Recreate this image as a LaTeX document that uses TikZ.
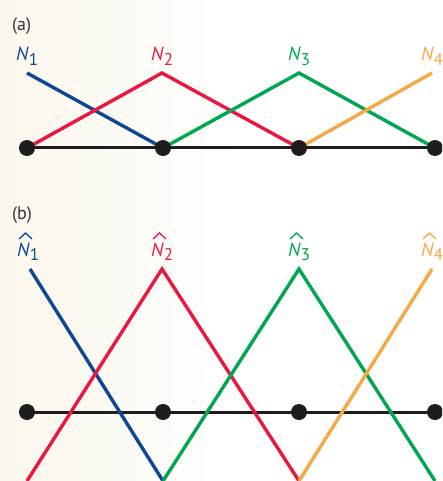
\documentclass[tikz,border=0pt]{standalone}
\usepackage{fontspec}
\setmainfont{PT Sans}
\definecolor{nblue}{RGB}{12,72,150}
\definecolor{nred}{RGB}{234,24,64}
\definecolor{ngreen}{RGB}{0,166,80}
\definecolor{norange}{RGB}{247,168,70}
\definecolor{cream}{RGB}{252,247,236}
\definecolor{dotc}{RGB}{30,28,28}
\newcommand{\mysub}[1]{\raisebox{-4.5pt}{\fontsize{17}{17}\selectfont #1}}
\newcommand{\lab}[1]{\textit{N}\mysub{#1}}
\begin{document}
\begin{tikzpicture}[x=1pt,y=-1pt,
  fn/.style={line width=3.4pt},
  axis/.style={line width=3pt,draw=dotc},
  dot/.style={circle,fill=dotc,minimum size=16pt,inner sep=0pt},
  txt/.style={font=\fontsize{19}{19}\selectfont,inner sep=0pt,anchor=base west},
  hat/.style={line width=1.3pt,line join=miter},
  panel/.style={font=\fontsize{18}{18}\selectfont,inner sep=0pt,text=black!80,anchor=base west}]
\useasboundingbox (0,0) rectangle (442,481);
\clip (0,0) rectangle (442,481);
\shade[left color=cream,right color=white] (0,0) rectangle (250,481);
% panel (a)
\node[panel] (pa) at (12,31) {(a)};
\coordinate (a1) at (27,148);
\coordinate (a2) at (163,148);
\coordinate (a3) at (299,148);
\coordinate (a4) at (435,148);
\coordinate (t1) at (27,73);
\coordinate (t2) at (162,73);
\coordinate (t3) at (299,73);
\coordinate (t4) at (432,73);
\draw[axis] (a1) -- (a4);
\draw[fn,nblue] (t1) -- (a2);
\draw[fn,nred,line join=miter] (a1) -- (t2) -- (a3);
\draw[fn,ngreen,line join=miter] (a2) -- (t3) -- (a4);
\draw[fn,norange] (a3) -- (t4);
\node[dot] (da1) at (a1) {};
\node[dot] (da2) at (a2) {};
\node[dot] (da3) at (a3) {};
\node[dot] (da4) at (a4) {};
\node[txt,text=nblue] (la1) at (16,61) {\lab{1}};
\node[txt,text=nred] (la2) at (151,61) {\lab{2}};
\node[txt,text=ngreen] (la3) at (288,61) {\lab{3}};
\node[txt,text=norange] (la4) at (421,61) {\lab{4}};
% panel (b)
\node[panel] (pb) at (12,219) {(b)};
\coordinate (b1) at (27,412);
\coordinate (b2) at (163,412);
\coordinate (b3) at (299,412);
\coordinate (b4) at (435,412);
\coordinate (s1) at (30,269);
\coordinate (s2) at (162,269);
\coordinate (s3) at (299,269);
\coordinate (s4) at (432,269);
\coordinate (u0) at (27,481);
\coordinate (u2) at (163,481);
\coordinate (u3) at (299,481);
\coordinate (u4) at (435,481);
\draw[axis] (b1) -- (b4);
\draw[fn,nblue] (s1) -- (u2);
\draw[fn,nred,line join=miter] (u0) -- (s2) -- (u3);
\draw[fn,ngreen,line join=miter] (u2) -- (s3) -- (u4);
\draw[fn,norange] (u3) -- (s4);
\node[dot] (db1) at (b1) {};
\node[dot] (db2) at (b2) {};
\node[dot] (db3) at (b3) {};
\node[dot] (db4) at (b4) {};
\node[txt,text=nblue] (lb1) at (17,256) {\lab{1}};
\node[txt,text=nred] (lb2) at (151,256) {\lab{2}};
\node[txt,text=ngreen] (lb3) at (288,256) {\lab{3}};
\node[txt,text=norange] (lb4) at (421,256) {\lab{4}};
\foreach \n/\c in {lb1/nblue,lb2/nred,lb3/ngreen,lb4/norange}{
  \draw[hat,\c] ([shift={(2,-17)}]\n.base west) -- ([shift={(8.5,-23)}]\n.base west) -- ([shift={(15,-17)}]\n.base west);
}
\end{tikzpicture}
\end{document}
